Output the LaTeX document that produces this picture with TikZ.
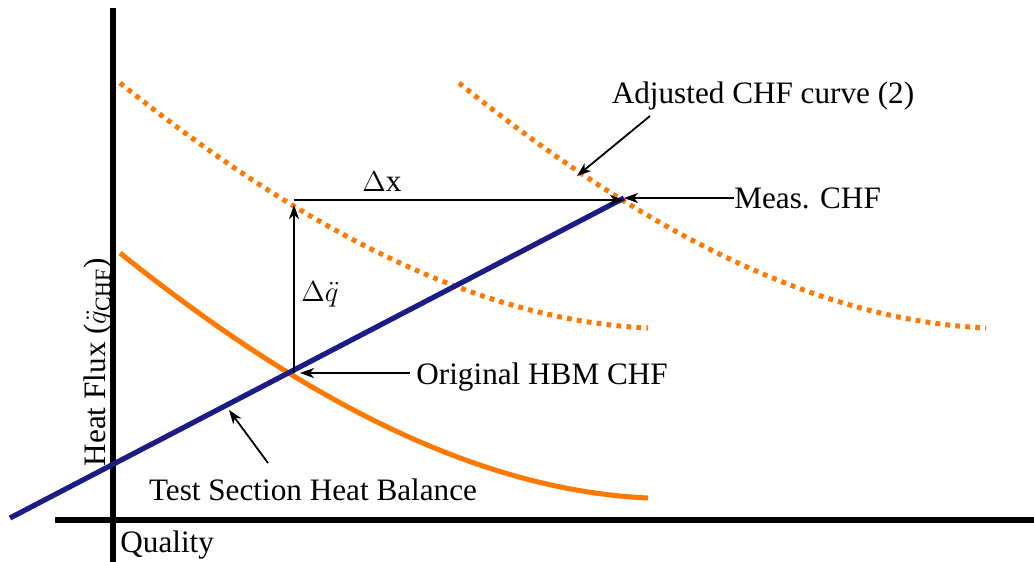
\documentclass[tikz,border=0pt]{standalone}
\usepackage{amsmath}
\usepackage{fontspec}
\setmainfont{Liberation Serif}
\usetikzlibrary{positioning,arrows.meta}
\definecolor{chforange}{RGB}{255,120,0}
\definecolor{hbblue}{RGB}{28,28,135}

\tikzset{
  axisline/.style={line width=2.6pt},
  chfcurve/.style={chforange,line width=2.5pt},
  chfdotted/.style={chforange,line width=2.5pt,dash pattern=on 2.4pt off 2.6pt},
  balance/.style={hbblue,line width=2.6pt},
  pointer/.style={->,line width=0.9pt},
  lbl/.style={inner sep=0pt,font=\fontsize{15.6}{18}\selectfont}
}

\begin{document}
\begin{tikzpicture}[x=0.5pt,y=-0.5pt,>={Stealth[length=7pt,width=5pt,inset=2pt]}]
\useasboundingbox (0,0) rectangle (1034,562);

% axes
\draw[axisline] (113,8) -- (113,562);
\draw[axisline] (55,520) -- (1034,520);
\node[lbl,anchor=north west] (xlab) at (120,530) {Quality};
\node[lbl,rotate=90] (ylab) at (98,362) {Heat Flux ($\ddot{q}_{\text{CHF}}$)};

% CHF curves
\draw[chfcurve] (120,253) .. controls (296,394) and (472,490) .. (648,498);
\draw[chfdotted] (120,83) .. controls (296,224) and (472,320) .. (648,328);
\draw[chfdotted] (459,83) .. controls (634,224) and (810,320) .. (986,328);

% heat balance line
\coordinate (hbstart) at (10,518);
\coordinate (meas) at (624,198);
\draw[balance] (hbstart) -- (meas);

\coordinate (orig) at (294,373);
\coordinate (adj) at (294,205);
\coordinate (dxstart) at (294,200);
\coordinate (hbpt) at (229,410);
\coordinate (adjpt) at (577,176);

% delta arrows
\draw[pointer] (orig) -- (adj);
\draw[pointer] (dxstart) -- (meas |- dxstart);
\node[lbl] (dx) at (382,182) {$\Delta$x};
\node[lbl] (dq) at (320,294) {$\Delta\ddot{q}$};

% labels
\node[lbl] (ladj) at (763,96) {Adjusted CHF curve (2)};
\node[lbl,anchor=west] (lmeas) at (734,198) {Meas. CHF};
\node[lbl,anchor=west] (lorig) at (416,377) {Original HBM CHF};
\node[lbl] (lhb) at (313,490) {Test Section Heat Balance};

\draw[pointer] (650,116) -- (adjpt);
\draw[pointer] (lmeas.west) -- (meas);
\draw[pointer] ([xshift=-3pt]lorig.west |- orig) -- ([xshift=3pt]orig);
\draw[pointer] (268,463) -- (hbpt);
\end{tikzpicture}
\end{document}
